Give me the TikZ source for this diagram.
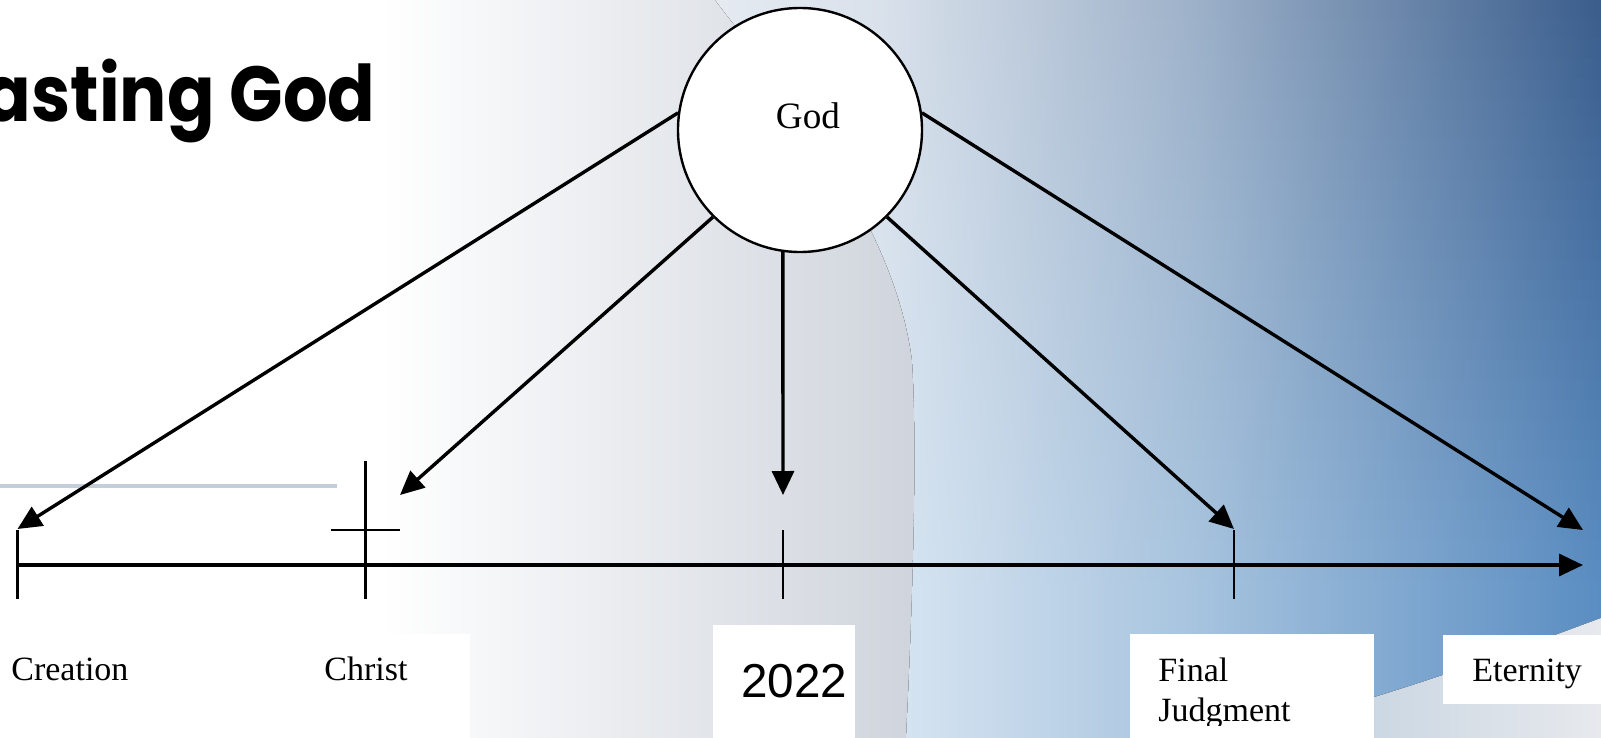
\documentclass[tikz,border=0pt]{standalone}
\usepackage{fontspec}
\setmainfont{Liberation Serif}
\newfontfamily\yearfont{Liberation Sans}
\newfontfamily\titlefont{Poppins}[FakeStretch=0.9]
\usetikzlibrary{arrows.meta}
\definecolor{gA}{HTML}{CFD4DC}
\definecolor{LA}{HTML}{E6EBF1}
\definecolor{LB}{HTML}{DDE8F2}
\definecolor{MA}{HTML}{D9E1EB}
\definecolor{MB}{HTML}{D9E6F2}
\definecolor{NA}{HTML}{9CB0C8}
\definecolor{NB}{HTML}{A6C3DE}
\definecolor{OA}{HTML}{3A5D8C}
\definecolor{OB}{HTML}{5A8DC2}
\definecolor{swA}{HTML}{C6D4E1}
\definecolor{swB}{HTML}{E7E9ED}
\definecolor{rule}{HTML}{C4CEDB}
\tikzset{
  arr/.style={line width=1.7pt, -{Triangle[length=12pt,width=11pt]}},
  tick/.style={line width=1.4pt},
  lbl/.style={inner sep=0pt, font=\fontsize{17}{20}\selectfont},
  labbox/.style={fill=white},
}
\begin{document}
\begin{tikzpicture}[x=0.5pt,y=-0.5pt]
\useasboundingbox (0,0) rectangle (1601,738);
\clip (0,0) rectangle (1601,738);
% background
\fill[white] (0,0) rectangle (1601,738);
\fill[left color=white, right color=gA] (380,0) rectangle (920,738);
\begin{scope}
  \clip (715,0) .. controls (800,110) and (895,230) .. (912,360)
        .. controls (918,450) and (912,620) .. (906,738)
        -- (1601,738) -- (1601,0) -- cycle;
  \foreach \i in {0,...,29}{
    \pgfmathsetmacro{\p}{100-\i*100/29}
    \pgfmathsetmacro{\ya}{\i*20}
    \pgfmathsetmacro{\yb}{\i*20+21}
    \fill[left color=LA!\p!LB, right color=MA!\p!MB] (700,\ya) rectangle (881,\yb);
    \fill[left color=MA!\p!MB, right color=NA!\p!NB] (880,\ya) rectangle (1201,\yb);
    \fill[left color=NA!\p!NB, right color=OA!\p!OB] (1200,\ya) rectangle (1601,\yb);
  }
  \fill[left color=LB, right color=MB] (700,600) rectangle (881,738);
  \fill[left color=MB, right color=NB] (880,600) rectangle (1201,738);
  \fill[left color=NB, right color=OB] (1200,600) rectangle (1601,738);
  \fill[left color=swA, right color=swB] (1330,738) -- (1330,710)
        .. controls (1430,682) and (1520,648) .. (1601,618) -- (1601,738) -- cycle;
\end{scope}
\draw[rule, line width=1.8pt] (0,486) -- (337,486);
% title
\node[anchor=base east, inner sep=0pt, font=\titlefont\bfseries\fontsize{39}{44}\selectfont] (title) at (376,122) {asting God};
% God circle
\node[circle, draw, line width=1.2pt, fill=white, minimum size=122pt, inner sep=0pt] (god) at (800,130) {};
\node[anchor=base, inner sep=0pt, font=\fontsize{18.6}{22}\selectfont] (godlbl) at (808,128) {God};
% timeline
\coordinate (tlstart) at (17.5,565);
\coordinate (tlend) at (1583,565);
\coordinate (creTip) at (17.5,529);
\coordinate (chrTip) at (400,495);
\coordinate (nowTip) at (783,495);
\coordinate (finTip) at (1234,529);
\coordinate (eteTip) at (1583,530);
\draw[arr] (tlstart) -- (tlend);
\draw[tick] (17.5,530) -- (17.5,599);
\draw[tick] (365.6,461) -- (365.6,599);
\draw[tick] (331,530) -- (400,530);
\draw[tick] (783,530) -- (783,599);
\draw[tick] (1234,530) -- (1234,599);
% arrows from God
\draw[arr] (god.172) -- (creTip);
\draw[arr] (god.225) -- (chrTip);
\draw[arr] (god.262) -- (nowTip);
\draw[arr] (god.315) -- (finTip);
\draw[arr] (god.8) -- (eteTip);
% labels
\fill[labbox] (300,634) rectangle (470,745);
\fill[labbox] (713,625) rectangle (855,745);
\fill[labbox] (1130,634) rectangle (1374,745);
\fill[labbox] (1443,635) rectangle (1610,704);
\node[lbl, anchor=base west] (creation) at (11,680) {Creation};
\node[lbl, anchor=base west] (christ) at (324,680) {Christ};
\node[anchor=base west, inner sep=0pt, font=\yearfont\fontsize{23.8}{28}\selectfont] (year) at (741,697) {2022};
\begin{scope}
  \clip (1130,634) rectangle (1374,725);
  \node[lbl, anchor=base west] (final) at (1158,681) {\vtop{\hbox{Final}\hbox{Judgment}}};
\end{scope}
\node[lbl, anchor=base west] (eternity) at (1472,681) {Eternity};
\end{tikzpicture}
\end{document}
